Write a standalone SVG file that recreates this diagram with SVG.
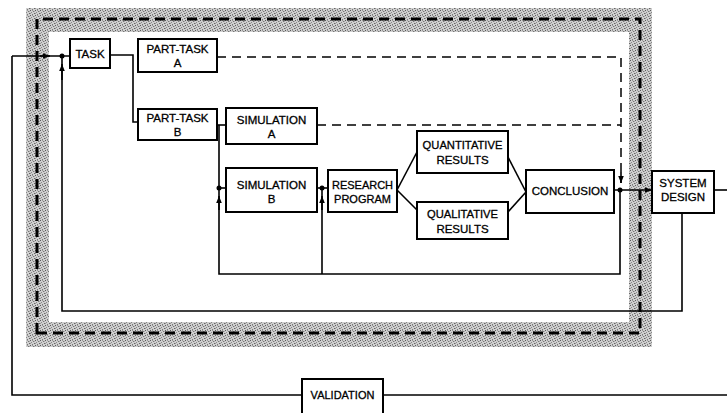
<svg xmlns="http://www.w3.org/2000/svg" width="727" height="413" viewBox="0 0 727 413">
<defs>
<pattern id="stip" width="5" height="5" patternUnits="userSpaceOnUse">
<rect width="5" height="5" fill="#cfcfcf"/>
<rect x="0" y="0" width="1" height="1" fill="#5a5a5a"/>
<rect x="3" y="1" width="1" height="1" fill="#777"/>
<rect x="1" y="2" width="1" height="1" fill="#888"/>
<rect x="4" y="3" width="1" height="1" fill="#666"/>
<rect x="2" y="4" width="1" height="1" fill="#7a7a7a"/>
<rect x="2" y="0" width="1" height="1" fill="#999"/>
<rect x="0" y="3" width="1" height="1" fill="#999"/>
<rect x="4" y="1" width="1" height="1" fill="#aaa"/>
</pattern>
<marker id="arr" viewBox="0 0 10 10" refX="10" refY="5" markerWidth="7" markerHeight="7" orient="auto" markerUnits="userSpaceOnUse">
<path d="M0,1 L10,5 L0,9 Z" fill="#000"/>
</marker>
<style>
.box{fill:#fff;stroke:#000;stroke-width:2}
.ln{fill:none;stroke:#000;stroke-width:1.6}
.dl{fill:none;stroke:#000;stroke-width:1.5;stroke-dasharray:9 6}
.t{font-family:"Liberation Sans",Arial,sans-serif;font-size:11.5px;fill:#000;stroke:#000;stroke-width:0.3;text-anchor:middle}
</style>
</defs>
<rect width="727" height="413" fill="#fff"/>
<g id="band">
<path d="M26,8 H652 V347 H26 Z M49,32 V322 H629 V32 Z" fill="url(#stip)" fill-rule="evenodd"/>
<path d="M37,333 V19 H640 V333 Z" fill="none" stroke="#000" stroke-width="3" stroke-dasharray="10 6"/>
</g>
<g id="connectors">
<path class="ln" d="M12,56 H70"/>
<path class="ln" d="M40,56 H50" marker-end="url(#arr)"/>
<path class="ln" d="M12,56 V395 H302"/>
<path class="ln" d="M383,395 H727"/>
<path class="ln" d="M714,190 H727"/>
<path class="ln" d="M110,55 H133 V122 H138"/>
<path class="ln" d="M217,125 H226"/>
<path class="ln" d="M682,213 V311 H62 V56"/>
<path class="ln" d="M62,80 V64" marker-end="url(#arr)"/>
<path class="ln" d="M219,125 V274 H620 V190"/>
<path class="ln" d="M219,188 H226"/>
<path class="ln" d="M219,210 V196" marker-end="url(#arr)"/>
<path class="ln" d="M317,188 H328"/>
<path class="ln" d="M322,188 V274"/>
<path class="ln" d="M322,210 V196" marker-end="url(#arr)"/>
<path class="ln" d="M397,190 L417,152"/>
<path class="ln" d="M397,190 L417,210"/>
<path class="ln" d="M508,157 L526,192"/>
<path class="ln" d="M508,212 L526,192"/>
<path class="ln" d="M614,190 H652" marker-end="url(#arr)"/>
<path class="dl" d="M217,57 H621 V183"/>
<path class="dl" d="M317,125 H621"/>
<path class="ln" d="M621,172 V183" marker-end="url(#arr)"/>
<circle cx="62" cy="56" r="2.5"/>
<circle cx="219" cy="188" r="2.5"/>
<circle cx="322" cy="188" r="2.5"/>
<circle cx="620" cy="190" r="2.5"/>
</g>
<g id="task"><rect class="box" x="70" y="39" width="40" height="29"/><text class="t" x="90" y="58">TASK</text></g>
<g id="parttask-a"><rect class="box" x="138" y="39" width="79" height="33"/><text class="t" x="177.5" y="53">PART-TASK</text><text class="t" x="177.5" y="67">A</text></g>
<g id="parttask-b"><rect class="box" x="138" y="109" width="79" height="31"/><text class="t" x="177.5" y="122">PART-TASK</text><text class="t" x="177.5" y="136">B</text></g>
<g id="simulation-a"><rect class="box" x="226" y="108" width="91" height="36"/><text class="t" x="271.5" y="124">SIMULATION</text><text class="t" x="271.5" y="138">A</text></g>
<g id="simulation-b"><rect class="box" x="226" y="168" width="91" height="44"/><text class="t" x="271.5" y="189">SIMULATION</text><text class="t" x="271.5" y="203">B</text></g>
<g id="research"><rect class="box" x="328" y="170" width="69" height="42"/><text class="t" x="362.5" y="189" style="font-size:11px">RESEARCH</text><text class="t" x="362.5" y="203" style="font-size:11px">PROGRAM</text></g>
<g id="quantitative"><rect class="box" x="417" y="131" width="91" height="42"/><text class="t" x="462.5" y="149" style="font-size:11.2px">QUANTITATIVE</text><text class="t" x="462.5" y="164">RESULTS</text></g>
<g id="qualitative"><rect class="box" x="417" y="202" width="91" height="37"/><text class="t" x="462.5" y="218" style="font-size:11.2px">QUALITATIVE</text><text class="t" x="462.5" y="233">RESULTS</text></g>
<g id="conclusion"><rect class="box" x="526" y="170" width="88" height="43"/><text class="t" x="570" y="195">CONCLUSION</text></g>
<g id="system-design"><rect class="box" x="652" y="171" width="62" height="42"/><text class="t" x="683" y="187">SYSTEM</text><text class="t" x="683" y="201">DESIGN</text></g>
<g id="validation"><rect class="box" x="302" y="379" width="81" height="40"/><text class="t" x="342.5" y="399" style="font-size:11px">VALIDATION</text></g>
</svg>
